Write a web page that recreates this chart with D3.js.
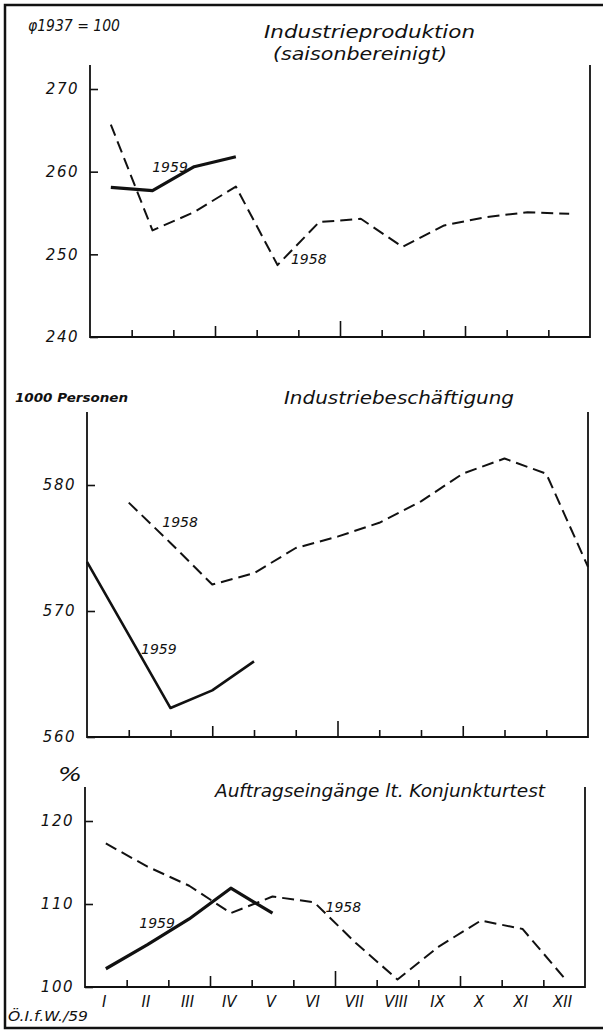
<!DOCTYPE html>
<html>
<head>
<meta charset="utf-8">
<script src="https://cdn.jsdelivr.net/npm/d3@7"></script>
<style>
body { margin: 0; background: #fff; }
svg text { font-family: "DejaVu Sans", sans-serif; font-style: oblique; fill: #111; }
.title { font-family: "DejaVu Sans Condensed", "DejaVu Sans", sans-serif; font-stretch: condensed; }
</style>
</head>
<body>
<svg id="canvas"></svg>
<script>
var w = 603;
var h = 1030;

// month labels (roman numerals)
var months = ['I', 'II', 'III', 'IV', 'V', 'VI', 'VII', 'VIII', 'IX', 'X', 'XI', 'XII']

// Industrieproduktion, saisonbereinigt (Ø 1937 = 100)
var prodTicks = [240, 250, 260, 270]
var prod1958 = [265.7, 252.9, 255.1, 258.2, 248.7, 253.9, 254.3, 250.9, 253.5, 254.5, 255.1, 254.9]
var prod1959 = [258.1, 257.7, 260.6, 261.8]

// Industriebeschäftigung (1000 Personen), Monatsende
var empTicks = [560, 570, 580]
var emp1958 = [578.6, 575.4, 572.1, 573.0, 575.0, 575.9, 577.0, 578.7, 580.9, 582.1, 580.9, 573.5]
var emp1959 = [573.9, 568.1, 562.3, 563.7, 566.0]   // starts with Dez. 1958

// Auftragseingänge lt. Konjunkturtest (%)
var orderTicks = [100, 110, 120]
var order1958 = [117.3, 114.5, 112.2, 108.9, 110.9, 110.2, 105.3, 100.9, 104.9, 108.0, 107.0, 101.1]
var order1959 = [102.2, 105.1, 108.2, 111.9, 108.9]

var svg = d3.select("#canvas")
  .attr("width", w)
  .attr("height", h)
  .attr("viewBox", [0, 0, w, h]);

// outer frame (top, left, bottom; the right side is cut off in the scan)
svg.append("path")
  .attr("d", "M603,5 H5 V1028 H603")
  .style("fill", "none")
  .style("stroke", "#111")
  .style("stroke-width", 2.5);

var panels = [
  { left: 90, right: 590, top: 65, bottom: 337, domain: [240, 270], yTop: 89,
    ticks: prodTicks,
    series: [
      { values: prod1958, offset: 0.5, dashed: true },
      { values: prod1959, offset: 0.5, dashed: false, width: 3.2 }],
    labels: [
      { text: '1959', k: 1.92, v: 260.6 },
      { text: '1958', k: 5.25, v: 249.5 }] },
  { left: 87, right: 588, top: 412, bottom: 737, domain: [560, 580], yTop: 485,
    ticks: empTicks,
    series: [
      { values: emp1958, offset: 1, dashed: true },
      { values: emp1959, offset: 0, dashed: false, width: 2.6 }],
    labels: [
      { text: '1958', k: 2.23, v: 577.1 },
      { text: '1959', k: 1.72, v: 567.0 }] },
  { left: 85, right: 585, top: 787, bottom: 987, domain: [100, 120], yTop: 821,
    ticks: orderTicks, monthLabels: true,
    series: [
      { values: order1958, offset: 0.5, dashed: true },
      { values: order1959, offset: 0.5, dashed: false, width: 3.2 }],
    labels: [
      { text: '1959', k: 1.73, v: 107.7 },
      { text: '1958', k: 6.2, v: 109.6 }] }
]

function drawPanel(p){
  var g = svg.append("g")
  var x = d3.scaleLinear().domain([0, 12]).range([p.left, p.right])
  var y = d3.scaleLinear().domain(p.domain).range([p.bottom, p.yTop])

  // frame lines of the panel
  g.append("path")
    .attr("d", "M" + p.left + "," + p.top + " V" + p.bottom + " H" + p.right + " V" + p.top)
    .style("fill", "none")
    .style("stroke", "#111")
    .style("stroke-width", 1.8);

  // value axis: ticks inside, labels left
  var ya = g.append("g")
    .attr("transform", "translate(" + p.left + ",0)")
    .call(d3.axisLeft(y).tickValues(p.ticks).tickSize(-8).tickSizeOuter(0).tickPadding(11));
  ya.select(".domain").remove()
  ya.selectAll("line").style("stroke", "#111").style("stroke-width", 1.6)
  ya.selectAll("text")
    .style("font-size", "15px")
    .style("font-style", "oblique")
    .style("letter-spacing", "1.5px")
    .style("font-family", '"DejaVu Sans", sans-serif');

  // month boundary ticks, longer at quarters and half year
  var xa = g.append("g")
    .attr("transform", "translate(0," + p.bottom + ")")
    .call(d3.axisBottom(x).tickValues(d3.range(1, 12)).tickSize(-7).tickSizeOuter(0).tickFormat(''));
  xa.select(".domain").remove()
  xa.selectAll("line")
    .attr("y2", d => d == 6 ? -16 : (d % 3 == 0 ? -11 : -7))
    .style("stroke", "#111")
    .style("stroke-width", 1.6);

  if (p.monthLabels){
    var ma = g.append("g")
      .attr("transform", "translate(0," + p.bottom + ")")
      .call(d3.axisBottom(x).tickValues(d3.range(12).map(i => i + 0.45)).tickSize(0).tickPadding(9)
        .tickFormat((d, i) => months[i]));
    ma.select(".domain").remove()
    ma.selectAll("text")
      .style("font-size", "15px")
      .style("font-style", "oblique")
      .style("font-family", '"DejaVu Sans", sans-serif');
  }

  var line = d3.line()
    .x(d => x(d.pos))
    .y(d => y(d.v))

  p.series.forEach(function(s){
    var pts = s.values.map((v, i) => ({ pos: i + s.offset, v: v }))
    g.append("path")
      .datum(pts)
      .attr("d", line)
      .style("fill", "none")
      .style("stroke", "#111")
      .style("stroke-width", s.dashed ? 2 : s.width)
      .style("stroke-linejoin", "round")
      .style("stroke-dasharray", s.dashed ? "12,6" : null);
  })

  p.labels.forEach(function(l){
    g.append("text")
      .attr("x", x(l.k))
      .attr("y", y(l.v))
      .attr("dy", "0.36em")
      .attr("text-anchor", "middle")
      .style("font-size", "14px")
      .text(l.text);
  })
}

panels.forEach(drawPanel)

// headings and units
function heading(t, x, y, size, len, weight){
  svg.append("text")
    .attr("class", "title")
    .attr("x", x)
    .attr("y", y)
    .attr("textLength", len)
    .attr("lengthAdjust", "spacingAndGlyphs")
    .style("font-size", size + "px")
    .style("font-weight", weight || "normal")
    .text(t);
}
heading("φ1937 = 100", 28, 31, 16, 92)
heading("Industrieproduktion", 264, 38, 18, 211)
heading("(saisonbereinigt)", 273, 60, 18, 174)
heading("1000 Personen", 15, 402, 13, 113, "bold")
heading("Industriebeschäftigung", 284, 404, 18, 230)
heading("%", 58, 781, 20, 24)
heading("Auftragseingänge lt. Konjunkturtest", 215, 797, 17, 330)
heading("Ö.I.f.W./59", 8, 1021, 14, 80)
</script>
</body>
</html>
